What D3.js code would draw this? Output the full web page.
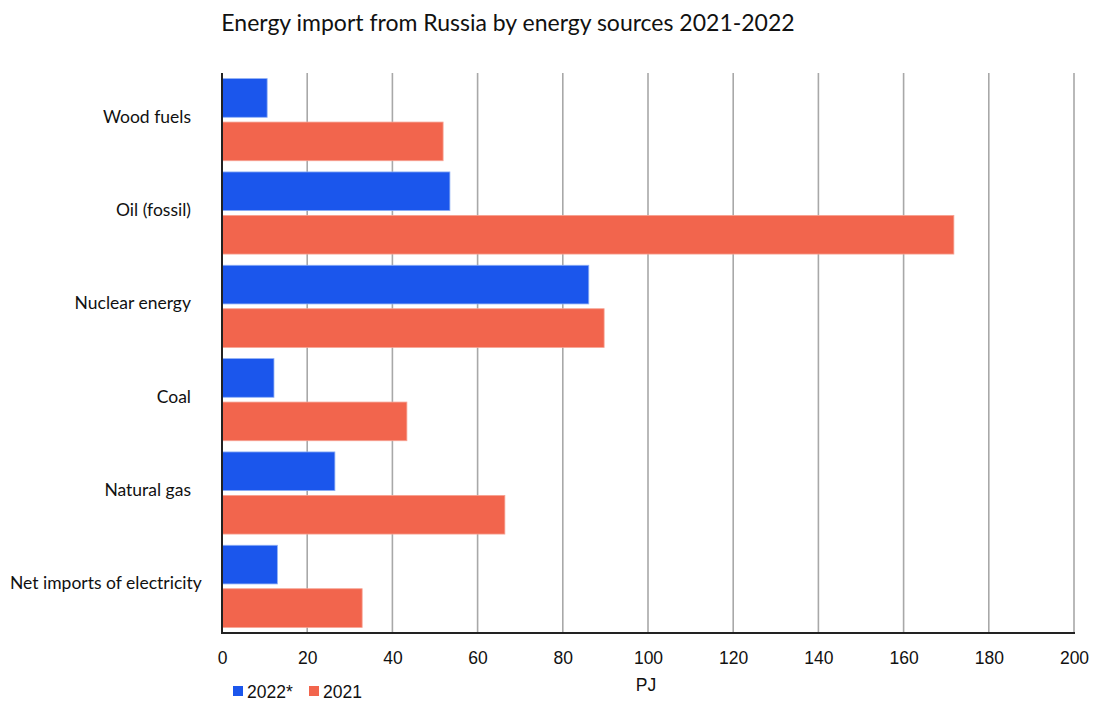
<!DOCTYPE html>
<html><head><meta charset="utf-8">
<script src="https://cdn.jsdelivr.net/npm/d3@7"></script>
<style>body{margin:0;background:#fff}</style>
</head><body><svg id="c" width="1094" height="701"></svg>
<script>
const categories = ["Wood fuels","Oil (fossil)","Nuclear energy","Coal","Natural gas","Net imports of electricity"];
const values2022 = [10.6, 53.5, 86.1, 12.2, 26.5, 13.0];
const values2021 = [51.9, 171.8, 89.7, 43.4, 66.4, 32.9];
const seriesNames = ["2022*","2021"];
const xTicks = [0,20,40,60,80,100,120,140,160,180,200];

const svg = d3.select("#c");
const m = {l:222, r:1074, t:73, b:633};
const x = d3.scaleLinear().domain([0,200]).range([m.l, m.r]);
const y0 = d3.scaleBand().domain(categories).range([m.t, m.b]).paddingInner(0.12).paddingOuter(0.06);
const y1 = d3.scaleBand().domain(seriesNames).range([0, y0.bandwidth()]).paddingInner(0.11);
const colors = {"2022*":"#1b56ec","2021":"#f2654d"};
const strokes = {"2022*":"#8fb0f5","2021":"#f7a393"};

// title
svg.append("text").attr("x",508).attr("y",31).attr("text-anchor","middle")
  .attr("font-family","Lato, 'Open Sans', sans-serif").attr("font-size",23).attr("fill","#111")
  .text("Energy import from Russia by energy sources 2021-2022");

// grid
svg.append("g").selectAll("line").data(xTicks.slice(1)).join("line")
  .attr("x1",d=>x(d)).attr("x2",d=>x(d)).attr("y1",m.t).attr("y2",m.b)
  .attr("stroke","#a8a8a8").attr("stroke-width",1.6);

// bars
const rows = categories.map((c,i)=>({c, vals:[{s:"2022*",v:values2022[i]},{s:"2021",v:values2021[i]}]}));
const g = svg.append("g").selectAll("g").data(rows).join("g")
  .attr("transform",d=>`translate(0,${y0(d.c)})`);
g.selectAll("rect").data(d=>d.vals).join("rect")
  .attr("x",x(0)).attr("y",d=>y1(d.s)).attr("height",y1.bandwidth())
  .attr("width",d=>x(d.v)-x(0)).attr("fill",d=>colors[d.s])
  .attr("stroke",d=>strokes[d.s]).attr("stroke-width",0.8);

// axes lines
svg.append("line").attr("x1",m.l).attr("x2",m.l).attr("y1",m.t).attr("y2",m.b+1).attr("stroke","#222").attr("stroke-width",2);
svg.append("line").attr("x1",m.l-1).attr("x2",m.r+1).attr("y1",m.b).attr("y2",m.b).attr("stroke","#222").attr("stroke-width",2);

// x axis ticks labels
const xa = svg.append("g").attr("transform",`translate(0,${m.b})`)
  .call(d3.axisBottom(x).tickValues(xTicks).tickSize(0).tickPadding(19).tickFormat(d3.format("d")));
xa.select(".domain").remove();
xa.selectAll("text").attr("font-family","'Liberation Sans', Arial, sans-serif").attr("font-size",17.5).attr("fill","#111");

// category labels
const labels = svg.append("g").selectAll("text").data(categories).join("text")
  .attr("x",191).attr("y",d=>y0(d)+y0.bandwidth()/2 - 3).attr("dy","0.35em")
  .attr("text-anchor","end").attr("font-family","Lato, 'Open Sans', sans-serif").attr("font-size",17.5).attr("fill","#111")
  .text(d=>d);
labels.each(function(){
  const bb = this.getBBox();
  if (bb.x < 10) { d3.select(this).attr("text-anchor","start").attr("x",10); }
});

// axis title
svg.append("text").attr("x",646).attr("y",691).attr("text-anchor","middle")
  .attr("font-family","'Liberation Sans', Arial, sans-serif").attr("font-size",17.5).attr("fill","#111").text("PJ");

// legend
const leg = svg.append("g").attr("transform","translate(233,692)");
const li = leg.selectAll("g").data(seriesNames).join("g").attr("transform",(d,i)=>`translate(${i*76},0)`);
li.append("rect").attr("x",0).attr("y",-6).attr("width",10).attr("height",10).attr("fill",d=>colors[d]);
li.append("text").attr("x",14).attr("y",0).attr("dy","0.35em").attr("font-family","'Liberation Sans', Arial, sans-serif")
  .attr("font-size",17.5).attr("fill","#111").text(d=>d);
</script></body></html>
